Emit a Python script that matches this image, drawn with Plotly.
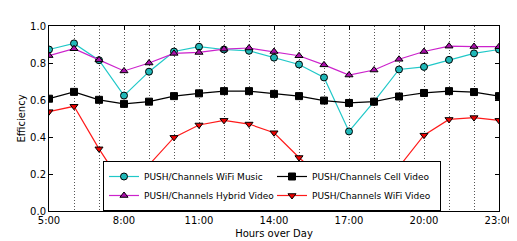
import plotly.graph_objects as go

hours = list(range(5, 24))
tick_hours = [5, 8, 11, 14, 17, 20, 23]
tick_labels = ["5:00", "8:00", "11:00", "14:00", "17:00", "20:00", "23:00"]

wifi_music = [0.873, 0.906, 0.815, 0.624, 0.753, 0.862, 0.888, 0.873, 0.866, 0.829,
              0.792, 0.722, 0.430, 0.591, 0.765, 0.779, 0.817, 0.852, 0.873]
hybrid_video = [0.840, 0.877, 0.817, 0.757, 0.800, 0.852, 0.857, 0.875, 0.881, 0.862,
                0.839, 0.790, 0.735, 0.762, 0.820, 0.862, 0.891, 0.889, 0.888]
cell_video = [0.607, 0.644, 0.601, 0.579, 0.591, 0.621, 0.636, 0.648, 0.648, 0.633,
              0.621, 0.597, 0.584, 0.591, 0.619, 0.638, 0.648, 0.643, 0.621]
wifi_video = [0.537, 0.566, 0.336, 0.129, 0.249, 0.398, 0.465, 0.490, 0.470, 0.423,
              0.289, 0.166, 0.144, 0.144, 0.239, 0.410, 0.495, 0.505, 0.490]

names = ["PUSH/Channels WiFi Music", "PUSH/Channels Cell Video",
         "PUSH/Channels Hybrid Video", "PUSH/Channels WiFi Video"]
series = [wifi_music, cell_video, hybrid_video, wifi_video]
colors = ["#20c8c8", "#000000", "#cc22cc", "#ff1a1a"]
fills = ["#20b8b8", "#000000", "#aa10aa", "#ee0000"]
symbols = ["circle", "square", "triangle-up", "triangle-down"]

fig = go.Figure()
for name, vals, c, f, s in zip(names, series, colors, fills, symbols):
    fig.add_trace(go.Scatter(
        x=hours, y=vals, name=name, mode="lines+markers",
        line=dict(color=c, width=1.2),
        marker=dict(symbol=s, size=7, color=f, line=dict(color="black", width=1)),
    ))

axis_font = dict(family="DejaVu Sans", size=10, color="black")
grid_color = "#555555"
fig.update_layout(
    width=517, height=241,
    margin=dict(l=41, r=14, t=12, b=30),
    paper_bgcolor="white", plot_bgcolor="white",
    font=axis_font,
    showlegend=True,
    legend=dict(
        orientation="h", x=0.12, y=0.0, xanchor="left", yanchor="bottom",
        bgcolor="white", bordercolor="black", borderwidth=1,
        font=dict(family="DejaVu Sans", size=9, color="black"),
        entrywidth=123, tracegroupgap=0, itemwidth=30,
    ),
    xaxis=dict(
        range=[5, 23], tickvals=tick_hours, ticktext=tick_labels,
        ticklabeloverflow="allow",
        showline=True, linecolor="black", linewidth=1, mirror="ticks",
        ticks="inside", ticklen=4, tickcolor="black",
        showgrid=True, gridcolor=grid_color, griddash="1px,2px", gridwidth=1,
        minor=dict(dtick=1, tick0=5, showgrid=True, gridcolor=grid_color,
                   griddash="1px,2px", gridwidth=1, ticks=""),
        zeroline=False,
        title=dict(text="Hours over Day", font=axis_font, standoff=4),
    ),
    yaxis=dict(
        range=[0, 1], dtick=0.2, tickformat=".1f",
        showline=True, linecolor="black", linewidth=1, mirror="ticks",
        ticks="inside", ticklen=4, tickcolor="black",
        showgrid=False, zeroline=False,
        title=dict(text="Efficiency", font=axis_font, standoff=2),
    ),
)

fig.write_html("out.html")
